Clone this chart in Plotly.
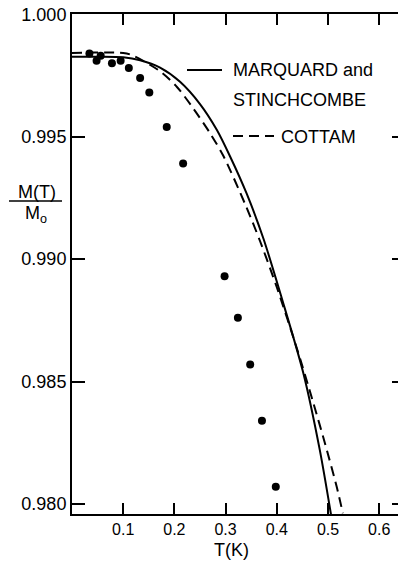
import plotly.graph_objects as go

# Experimental points
T_data = [0.034, 0.048, 0.056, 0.078, 0.095, 0.111, 0.133, 0.151, 0.185, 0.217,
          0.298, 0.324, 0.348, 0.371, 0.398]
M_data = [0.9984, 0.9981, 0.9983, 0.9980, 0.9981, 0.9978, 0.9974, 0.9968, 0.9954, 0.9939,
          0.9893, 0.9876, 0.9857, 0.9834, 0.9807]

# Marquard and Stinchcombe (solid)
T_ms = [0.0, 0.05, 0.10, 0.133, 0.172, 0.211, 0.25, 0.283, 0.309, 0.341, 0.374, 0.410,
        0.452, 0.484, 0.506]
M_ms = [0.99826, 0.99826, 0.99824, 0.99812, 0.99782, 0.99724, 0.99633, 0.99527, 0.99418,
        0.99268, 0.99083, 0.98838, 0.98533, 0.98220, 0.97955]

# Cottam (dashed)
T_c = [0.0, 0.10, 0.117, 0.172, 0.205, 0.237, 0.270, 0.296, 0.338, 0.367, 0.400, 0.440,
       0.471, 0.494, 0.517, 0.529]
M_c = [0.99842, 0.99842, 0.99833, 0.99767, 0.99703, 0.99615, 0.99513, 0.99420, 0.99225,
       0.99075, 0.98885, 0.98630, 0.98415, 0.98248, 0.98070, 0.97962]

x_ticks = [0.1, 0.2, 0.3, 0.4, 0.5, 0.6]
x_ticktext = ["0.1", "0.2", "0.3", "0.4", "0.5", "0.6"]
y_ticks = [0.980, 0.985, 0.990, 0.995, 1.000]
y_ticktext = ["0.980", "0.985", "0.990", "0.995", "1.000"]

FONT = "Liberation Sans, Arial, sans-serif"
XR = [0.0, 0.6367]
YR = [0.97959, 1.00001]

fig = go.Figure()
fig.add_trace(go.Scatter(x=T_ms, y=M_ms, mode="lines",
                         line=dict(color="black", width=2, shape="spline", smoothing=0.8),
                         showlegend=False, hoverinfo="skip"))
fig.add_trace(go.Scatter(x=T_c, y=M_c, mode="lines",
                         line=dict(color="black", width=2, dash="10px,6px", shape="spline", smoothing=0.8),
                         showlegend=False, hoverinfo="skip"))
fig.add_trace(go.Scatter(x=T_data, y=M_data, mode="markers",
                         marker=dict(color="black", size=8),
                         showlegend=False))
# trace carrying the right-side ticks axis
fig.add_trace(go.Scatter(x=[0.0], y=[0.99], yaxis="y2", mode="markers",
                         marker=dict(opacity=0), showlegend=False, hoverinfo="skip"))

fig.update_layout(
    width=398, height=561,
    margin=dict(l=72, r=0, t=14, b=47),
    paper_bgcolor="white", plot_bgcolor="white",
    font=dict(family=FONT, color="black"),
    xaxis=dict(range=XR, showgrid=False, zeroline=False, showline=True, linecolor="black",
               linewidth=2, mirror="ticks", ticks="inside", ticklen=11, tickwidth=1.5,
               tickcolor="black", tickvals=x_ticks, ticktext=x_ticktext,
               tickfont=dict(size=16, family=FONT)),
    yaxis=dict(range=YR, showgrid=False, zeroline=False, showline=True, linecolor="black",
               linewidth=2, ticks="inside", ticklen=13, tickwidth=1.5, tickcolor="black",
               tickvals=y_ticks, ticktext=y_ticktext, tickfont=dict(size=18, family=FONT)),
    yaxis2=dict(range=YR, overlaying="y", side="right", showgrid=False, zeroline=False,
                showline=False, ticks="inside", ticklen=6, tickwidth=1.5, tickcolor="black",
                tickvals=y_ticks, showticklabels=False),
)

def px(xp):
    return (xp - 72) / 326.0

def py(yp):
    return (514 - yp) / 500.0

# legend (hand placed like the original)
fig.add_shape(type="line", xref="paper", yref="paper", x0=px(187), x1=px(222), y0=py(70), y1=py(70),
              line=dict(color="black", width=2))
fig.add_shape(type="line", xref="paper", yref="paper", x0=px(233), x1=px(274), y0=py(136), y1=py(136),
              line=dict(color="black", width=2, dash="10px,6px"))
ann = [
    ("MARQUARD and", px(231), py(69.5)),
    ("STINCHCOMBE", px(231), py(100)),
    ("COTTAM", px(279), py(136.5)),
]
for txt, xx, yy in ann:
    fig.add_annotation(text=txt, x=xx, y=yy, xref="paper", yref="paper", xanchor="left",
                       yanchor="middle", showarrow=False, font=dict(size=18, family=FONT))

# y-axis title as a fraction
fig.add_annotation(text="M(T)", x=px(37), y=py(192), xref="paper", yref="paper",
                   xanchor="center", yanchor="middle", showarrow=False, font=dict(size=18, family=FONT))
fig.add_shape(type="line", xref="paper", yref="paper", x0=px(9), x1=px(62), y0=py(201), y1=py(201),
              line=dict(color="black", width=1.5))
fig.add_annotation(text="M<sub>o</sub>", x=px(36), y=py(214), xref="paper", yref="paper",
                   xanchor="center", yanchor="middle", showarrow=False, font=dict(size=18, family=FONT))

# x-axis title
fig.add_annotation(text="T(K)", x=px(231), y=py(550), xref="paper", yref="paper",
                   xanchor="center", yanchor="middle", showarrow=False, font=dict(size=18, family=FONT))

fig.write_html("out.html")
